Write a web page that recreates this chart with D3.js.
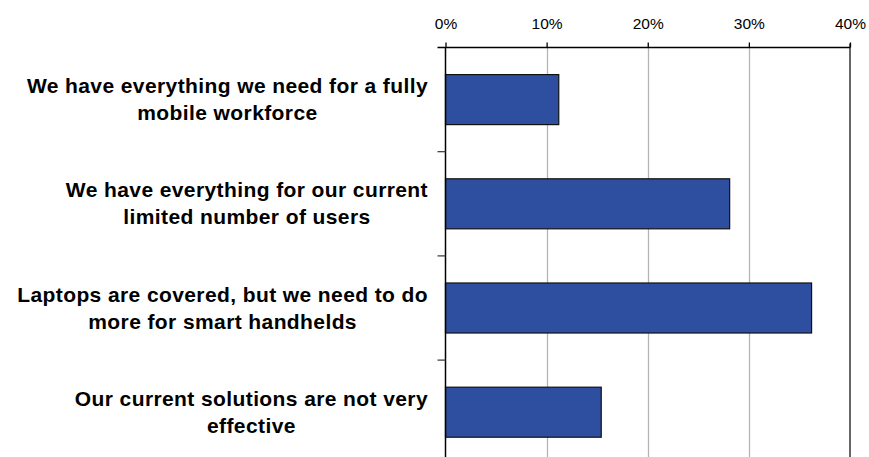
<!DOCTYPE html>
<html><head><meta charset="utf-8">
<script src="https://cdn.jsdelivr.net/npm/d3@7"></script>
<style>
html,body{margin:0;padding:0;background:#fff;}
svg{display:block;font-family:"Liberation Sans",Arial,sans-serif;}
</style></head>
<body>
<svg id="chart" width="869" height="457"></svg>
<script>
const categories = [
  ["We have everything we need for a fully", "mobile workforce"],
  ["We have everything for our current", "limited number of users"],
  ["Laptops are covered, but we need to do", "more for smart handhelds"],
  ["Our current solutions are not very", "effective"]
];
const values = [11.2, 28.1, 36.2, 15.4];
const tickValues = [0, 10, 20, 30, 40];
const tickLabels = ["0%", "10%", "20%", "30%", "40%"];

const svg = d3.select("#chart");
const x0 = 445.5, x1 = 850, yTop = 47.5, yBot = 464.3;
const x = d3.scaleLinear().domain([0, 40]).range([x0, x1]);
const ids = categories.map((d, i) => i);
const y = d3.scaleBand().domain(ids).range([yTop, yBot]).paddingInner(0.52).paddingOuter(0.26);
const yb = d3.scaleBand().domain(ids).range([yTop, yBot]).padding(0);

// gridlines
svg.append("g").selectAll("line").data(tickValues.slice(1, -1)).join("line")
  .attr("x1", d => Math.round(x(d)) + 0.5).attr("x2", d => Math.round(x(d)) + 0.5)
  .attr("y1", yTop).attr("y2", 457)
  .attr("stroke", "#b4b4b4").attr("stroke-width", 1.3);

// right border
svg.append("line").attr("x1", x(40)).attr("x2", x(40)).attr("y1", yTop - 4).attr("y2", 457)
  .attr("stroke", "#333").attr("stroke-width", 1.5);

// bars
svg.append("g").selectAll("rect").data(values).join("rect")
  .attr("x", x(0)).attr("y", (d, i) => y(i))
  .attr("width", d => x(d) - x(0)).attr("height", y.bandwidth())
  .attr("fill", "#2e4f9f").attr("stroke", "#111").attr("stroke-width", 1.2);

// top axis
const ax = d3.axisTop(x).tickValues(tickValues).tickFormat((d, i) => tickLabels[i]).tickSize(5).tickSizeOuter(0);
const gx = svg.append("g").attr("transform", `translate(0,${yTop})`).call(ax);
gx.select(".domain").attr("stroke", "#000").attr("stroke-width", 1.5)
  .attr("d", `M${x0 - 8},0H${x1}`);
gx.selectAll(".tick line").attr("stroke", "#000").attr("stroke-width", 1.3);
gx.selectAll(".tick text").attr("font-size", "15.5px").attr("fill", "#000")
  .attr("font-family", "'Liberation Sans',Arial,sans-serif").attr("dy", "0").attr("y", -18.5);

// left axis line + ticks
svg.append("line").attr("x1", x0).attr("x2", x0).attr("y1", yTop).attr("y2", 457)
  .attr("stroke", "#000").attr("stroke-width", 1.5);
svg.append("g").selectAll("line").data(ids.slice(1)).join("line")
  .attr("x1", x0 - 8).attr("x2", x0).attr("y1", d => yb(d)).attr("y2", d => yb(d))
  .attr("stroke", "#333").attr("stroke-width", 1.2);

// category labels
const lab = svg.append("g").attr("font-weight", "bold").attr("font-size", "21px")
  .attr("letter-spacing", "0.4px").attr("fill", "#000");
categories.forEach((lines, i) => {
  const cy = y(i) + y.bandwidth() / 2;
  const t = lab.append("text").attr("text-anchor", "middle");
  const spans = lines.map((s, k) => t.append("tspan").text(s)
    .attr("y", cy + (k - (lines.length - 1) / 2) * 27 + 7));
  const maxW = d3.max(spans, s => s.node().getComputedTextLength());
  const cx = 428 - maxW / 2;
  spans.forEach(s => s.attr("x", cx));
});
</script>
</body></html>
